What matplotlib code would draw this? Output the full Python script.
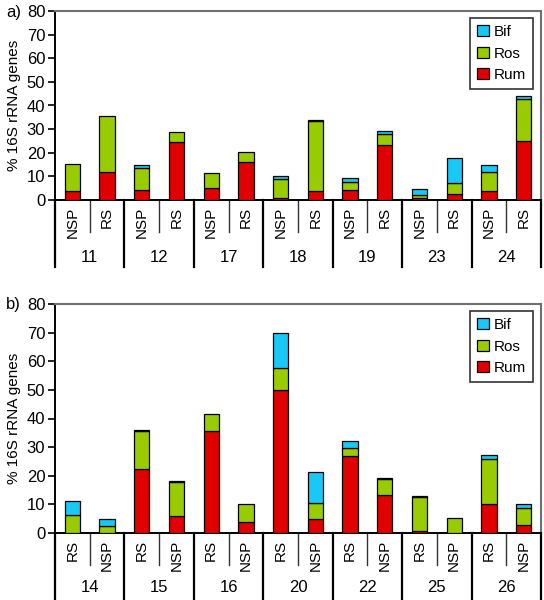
import matplotlib
matplotlib.use("Agg")
import matplotlib.pyplot as plt
from matplotlib.patches import Patch
import matplotlib.transforms as mtransforms
import numpy as np

plt.rcParams['font.family'] = ['Liberation Sans', 'DejaVu Sans']

# ---------------- data ----------------
groups_a = ["11", "12", "17", "18", "19", "23", "24"]
sub_a = ["NSP", "RS"] * 7
rum_a = [3.8, 11.7, 4.1, 24.4, 4.9, 16.1, 0.7, 3.7, 4.1, 23.3, 1.0, 2.4, 3.8, 25.0]
ros_a = [11.4, 23.8, 9.3, 4.4, 6.4, 4.2, 8.0, 29.7, 3.4, 4.8, 1.2, 4.7, 8.2, 17.6]
bif_a = [0.0, 0.0, 1.6, 0.0, 0.0, 0.0, 1.6, 0.6, 1.9, 1.2, 2.3, 10.5, 3.0, 1.5]

groups_b = ["14", "15", "16", "20", "22", "25", "26"]
sub_b = ["RS", "NSP"] * 7
rum_b = [0.0, 0.0, 22.2, 6.1, 35.8, 3.7, 49.8, 5.0, 26.9, 13.4, 0.8, 0.0, 10.0, 2.9]
ros_b = [6.2, 2.6, 13.4, 11.7, 5.9, 6.3, 7.9, 5.4, 2.7, 5.4, 11.9, 5.3, 15.8, 5.9]
bif_b = [4.9, 2.2, 0.4, 0.4, 0.0, 0.0, 12.3, 11.0, 2.6, 0.5, 0.3, 0.0, 1.5, 1.3]

series_names = ["Bif", "Ros", "Rum"]
yticks = [0, 10, 20, 30, 40, 50, 60, 70, 80]

C_BIF = "#19C8F5"
C_ROS = "#99CC00"
C_RUM = "#E00000"

W, H = 544, 600
fig = plt.figure(figsize=(W / 100, H / 100), dpi=100)

FS = 12
FS_SUB = 11


def px_ax(left, top, right, bottom):
    return fig.add_axes([left / W, 1 - bottom / H, (right - left) / W, (bottom - top) / H])


def draw_panel(ax, rum, ros, bif, groups, subs, ax_h_px, grp_line_px, grp_lbl_px):
    x = np.arange(len(rum))
    rum = np.array(rum); ros = np.array(ros); bif = np.array(bif)
    bw = 0.44
    kw = dict(width=bw, edgecolor="black", linewidth=0.9, zorder=3)
    ax.bar(x, rum, color=C_RUM, **kw)
    ax.bar(x, ros, bottom=rum, color=C_ROS, **kw)
    mask = bif > 0
    ax.bar(x[mask], bif[mask], bottom=(rum + ros)[mask], color=C_BIF, **kw)

    ax.set_xlim(-0.5, len(rum) - 0.5)
    ax.set_ylim(0, 80)
    ax.set_yticks(yticks)
    ax.set_yticklabels([str(t) for t in yticks], fontsize=FS)
    ax.set_xticks([])
    ax.tick_params(axis="y", direction="out", length=5, width=1.2, pad=2)
    ax.spines["left"].set_color("black")
    ax.spines["left"].set_linewidth(1.4)
    ax.spines["bottom"].set_color("black")
    ax.spines["bottom"].set_linewidth(1.4)
    for s in ("top", "right"):
        ax.spines[s].set_color("#707070")
        ax.spines[s].set_linewidth(1.5)
    ax.set_ylabel("% 16S rRNA genes", fontsize=FS_SUB, labelpad=4)

    # category axis drawn below the plot
    trans = mtransforms.blended_transform_factory(ax.transData, ax.transAxes)
    def yax(px):
        return -px / ax_h_px
    for i, s in enumerate(subs):
        ax.text(i, yax(7), s, rotation=90, ha="center", va="top", fontsize=FS_SUB,
                transform=trans, clip_on=False)
    for i in range(len(subs) // 2):
        xm = 2 * i + 0.5
        ax.plot([xm, xm], [0, yax(32)], color="#333333", lw=1.0, transform=trans, clip_on=False)
    for i in range(len(groups) + 1):
        xb = 2 * i - 0.5
        ax.plot([xb, xb], [0, yax(grp_line_px)], color="black", lw=1.6, transform=trans,
                clip_on=False)
    for i, g in enumerate(groups):
        ax.text(2 * i + 0.5, yax(grp_lbl_px), g, ha="center", va="center", fontsize=FS,
                transform=trans, clip_on=False)

    handles = [Patch(facecolor=C_BIF, edgecolor="black", linewidth=0.9),
               Patch(facecolor=C_ROS, edgecolor="black", linewidth=0.9),
               Patch(facecolor=C_RUM, edgecolor="black", linewidth=0.9)]
    leg = ax.legend(handles, series_names, loc="upper right",
                    bbox_to_anchor=(1 - 8 / 486, 1 - 7 / ax_h_px),
                    borderaxespad=0, fontsize=FS_SUB, frameon=True, fancybox=False,
                    edgecolor="black", handlelength=0.75, handleheight=0.75,
                    handletextpad=0.35, labelspacing=0.5, borderpad=0.45)
    leg.get_frame().set_linewidth(1.2)
    leg.set_zorder(5)


ax_a = px_ax(55, 11, 541, 200)
draw_panel(ax_a, rum_a, ros_a, bif_a, groups_a, sub_a, 189, 67, 58)
fig.text(6 / W, 1 - 12 / H, "a)", fontsize=FS, ha="left", va="center")

ax_b = px_ax(55, 304, 541, 533)
draw_panel(ax_b, rum_b, ros_b, bif_b, groups_b, sub_b, 229, 80, 55)
fig.text(6 / W, 1 - 304 / H, "b)", fontsize=FS, ha="left", va="center")

fig.savefig("out.png", dpi=100)
